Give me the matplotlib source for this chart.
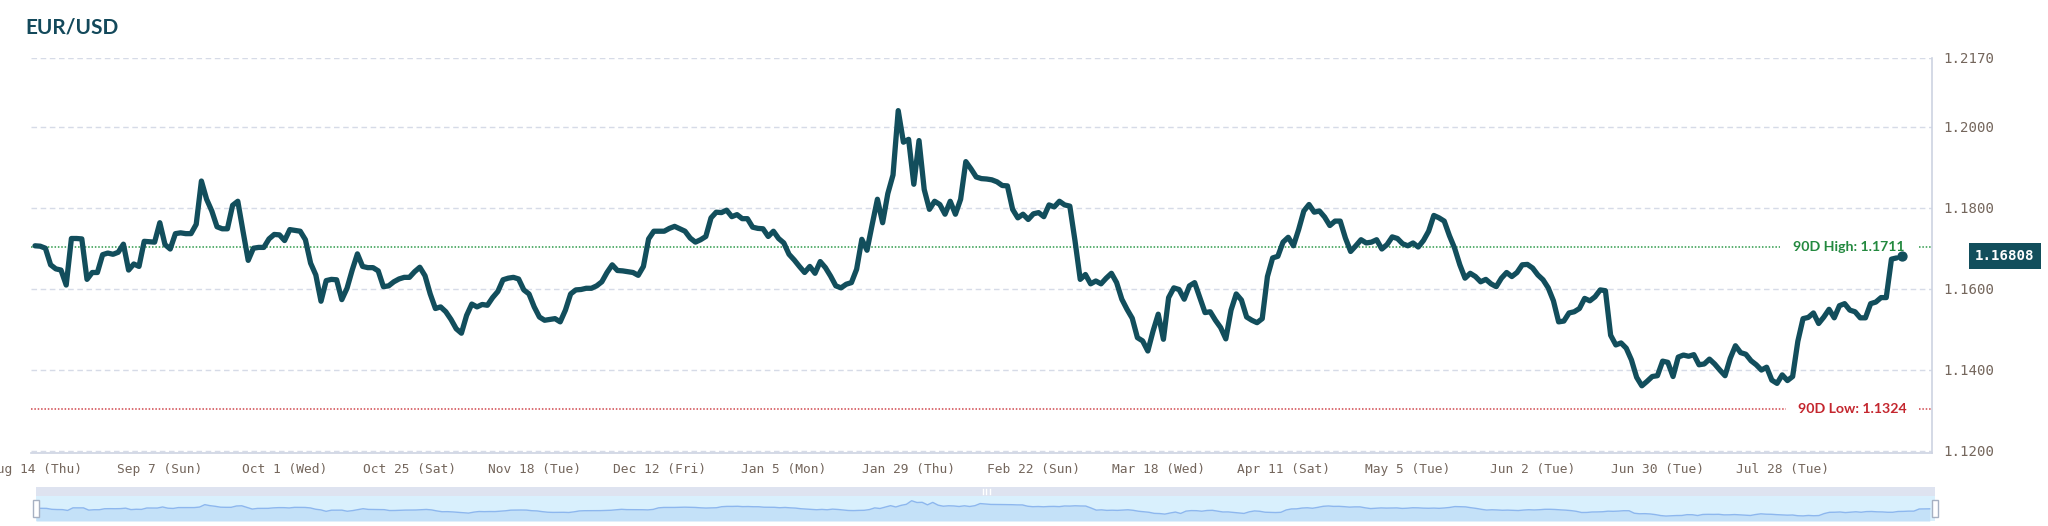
import matplotlib
matplotlib.use("Agg")
import matplotlib.pyplot as plt
from matplotlib.patches import Rectangle
import numpy as np

# ---- data ----
tick_labels = [
    "Aug 14 (Thu)", "Sep 7 (Sun)", "Oct 1 (Wed)", "Oct 25 (Sat)", "Nov 18 (Tue)",
    "Dec 12 (Fri)", "Jan 5 (Mon)", "Jan 29 (Thu)", "Feb 22 (Sun)", "Mar 18 (Wed)",
    "Apr 11 (Sat)", "May 5 (Tue)", "Jun 2 (Tue)", "Jun 30 (Tue)", "Jul 28 (Tue)",
]
tick_step = 24  # one label every 24 points

eurusd = [
    # Aug 14 ->
    1.1706, 1.1705, 1.1700, 1.1659, 1.1649, 1.1646, 1.1609, 1.1724, 1.1724, 1.1723,
    1.1623, 1.1640, 1.1640, 1.1684, 1.1688, 1.1685, 1.1690, 1.1710, 1.1646, 1.1661,
    1.1655, 1.1717, 1.1716, 1.1715,
    # Sep 7 ->
    1.1763, 1.1709, 1.1698, 1.1736, 1.1738, 1.1736, 1.1736, 1.1759, 1.1866, 1.1821,
    1.1792, 1.1753, 1.1748, 1.1748, 1.1806, 1.1816, 1.1742, 1.1670, 1.1700, 1.1702,
    1.1702, 1.1723, 1.1734, 1.1733,
    # Oct 1 ->
    1.1719, 1.1746, 1.1744, 1.1742, 1.1721, 1.1663, 1.1634, 1.1569, 1.1620, 1.1623,
    1.1622, 1.1573, 1.1601, 1.1646, 1.1686, 1.1655, 1.1652, 1.1652, 1.1644, 1.1605,
    1.1607, 1.1617, 1.1624, 1.1628,
    # Oct 25 ->
    1.1628, 1.1642, 1.1653, 1.1632, 1.1587, 1.1551, 1.1555, 1.1543, 1.1524, 1.1501,
    1.1490, 1.1534, 1.1562, 1.1555, 1.1561, 1.1559, 1.1578, 1.1593, 1.1622, 1.1626,
    1.1628, 1.1624, 1.1597, 1.1587,
    # Nov 18 ->
    1.1555, 1.1530, 1.1522, 1.1524, 1.1526, 1.1518, 1.1547, 1.1587, 1.1597, 1.1598,
    1.1601, 1.1601, 1.1607, 1.1617, 1.1640, 1.1659, 1.1645, 1.1644, 1.1642, 1.1640,
    1.1633, 1.1655, 1.1723, 1.1742,
    # Dec 12 ->
    1.1742, 1.1742, 1.1749, 1.1754, 1.1748, 1.1742, 1.1725, 1.1715, 1.1721, 1.1729,
    1.1775, 1.1789, 1.1788, 1.1794, 1.1778, 1.1783, 1.1773, 1.1773, 1.1752, 1.1749,
    1.1748, 1.1729, 1.1742, 1.1724,
    # Jan 5 ->
    1.1713, 1.1685, 1.1671, 1.1655, 1.1640, 1.1655, 1.1638, 1.1667, 1.1652, 1.1631,
    1.1607, 1.1602, 1.1611, 1.1615, 1.1648, 1.1722, 1.1695, 1.1759, 1.1821, 1.1763,
    1.1835, 1.1881, 1.2040, 1.1962,
    # Jan 29 ->
    1.1969, 1.1858, 1.1966, 1.1845, 1.1796, 1.1816, 1.1808, 1.1784, 1.1816, 1.1784,
    1.1821, 1.1914, 1.1896, 1.1876, 1.1872, 1.1871, 1.1869, 1.1864, 1.1855, 1.1854,
    1.1796, 1.1775, 1.1784, 1.1771,
    # Feb 22 ->
    1.1785, 1.1788, 1.1778, 1.1807, 1.1802, 1.1816, 1.1807, 1.1804, 1.1718, 1.1623,
    1.1635, 1.1612, 1.1619, 1.1612, 1.1626, 1.1638, 1.1615, 1.1574, 1.1549, 1.1527,
    1.1479, 1.1471, 1.1446, 1.1495,
    # Mar 18 ->
    1.1537, 1.1475, 1.1578, 1.1602, 1.1598, 1.1574, 1.1607, 1.1615, 1.1578, 1.1541,
    1.1543, 1.1522, 1.1504, 1.1476, 1.1547, 1.1587, 1.1572, 1.1530, 1.1522, 1.1516,
    1.1526, 1.1630, 1.1676, 1.1680,
    # Apr 11 ->
    1.1715, 1.1727, 1.1706, 1.1746, 1.1792, 1.1808, 1.1789, 1.1792, 1.1777, 1.1756,
    1.1767, 1.1767, 1.1725, 1.1692, 1.1706, 1.1721, 1.1713, 1.1715, 1.1721, 1.1698,
    1.1709, 1.1728, 1.1724, 1.1711,
    # May 5 ->
    1.1706, 1.1713, 1.1703, 1.1719, 1.1742, 1.1781, 1.1775, 1.1767, 1.1731, 1.1700,
    1.1659, 1.1626, 1.1638, 1.1630, 1.1617, 1.1623, 1.1612, 1.1605, 1.1626, 1.1640,
    1.1630, 1.1640, 1.1659, 1.1660,
    # Jun 2 ->
    1.1651, 1.1634, 1.1622, 1.1602, 1.1570, 1.1518, 1.1520, 1.1540, 1.1543, 1.1551,
    1.1576, 1.1570, 1.1580, 1.1597, 1.1595, 1.1485, 1.1461, 1.1466, 1.1453, 1.1424,
    1.1381, 1.1360, 1.1371, 1.1383,
    # Jun 30 ->
    1.1385, 1.1421, 1.1418, 1.1383, 1.1431, 1.1436, 1.1433, 1.1437, 1.1412, 1.1414,
    1.1426, 1.1414, 1.1399, 1.1385, 1.1428, 1.1459, 1.1442, 1.1438, 1.1422, 1.1412,
    1.1399, 1.1406, 1.1374, 1.1366,
    # Jul 28 ->
    1.1387, 1.1373, 1.1383, 1.1470, 1.1526, 1.1529, 1.1540, 1.1514, 1.1530, 1.1549,
    1.1528, 1.1558, 1.1563, 1.1547, 1.1543, 1.1528, 1.1528, 1.1563, 1.1567, 1.1578,
    1.1578, 1.1673, 1.1676,
]
last_price = 1.16808

high_90d_label = "90D High: 1.1711"
high_90d_line = 1.1702
low_90d_label = "90D Low: 1.1324"
low_90d_line = 1.1303

y_ticks = [1.1200, 1.1400, 1.1600, 1.1800, 1.2000, 1.2170]

# ---- styling ----
TEAL = "#124e5c"
GRID = "#d6dbe7"
AXIS = "#cdd3e2"
TICK_TXT = "#74665c"
GREEN_TXT, GREEN_LINE = "#23893f", "#2e9a4a"
RED_TXT, RED_LINE = "#c4262e", "#d0454b"
MONO = ["DejaVu Sans Mono"]
SANS = ["Lato", "DejaVu Sans"]

W, H, DPI = 2048, 526, 100
fig = plt.figure(figsize=(W / DPI, H / DPI), dpi=DPI)
fig.patch.set_facecolor("white")


def px_box(left, top, right, bottom):
    return [left / W, 1 - bottom / H, (right - left) / W, (bottom - top) / H]


x = np.arange(len(eurusd))
last_x = len(eurusd)

ax = fig.add_axes(px_box(31, 58, 1932, 453))
ax.set_xlim(-0.77, 364.8)
ax.set_ylim(1.1194, 1.2170)

ax.plot(x, eurusd, color=TEAL, lw=3.8, solid_joinstyle="round",
        solid_capstyle="round", zorder=5)
ax.plot([last_x], [last_price], "o", ms=6.4, color=TEAL, zorder=6)

# 90 day high / low reference lines with a gap behind their labels
for level, lo_gap, hi_gap, col in [(high_90d_line, 0.920, 0.9932, GREEN_LINE),
                                   (low_90d_line, 0.9232, 0.9932, RED_LINE)]:
    ax.axhline(level, 0, lo_gap, color=col, lw=1.1, ls=(0, (1, 1.2)), zorder=2)
    ax.axhline(level, hi_gap, 1, color=col, lw=1.1, ls=(0, (1, 1.2)), zorder=2)

ytr = ax.get_yaxis_transform()
ax.text(0.9563, high_90d_line, high_90d_label, transform=ytr, ha="center",
        va="center", color=GREEN_TXT, fontsize=10.2, fontweight="bold",
        family=SANS, zorder=3)
ax.text(0.9580, low_90d_line, low_90d_label, transform=ytr, ha="center",
        va="center", color=RED_TXT, fontsize=10.2, fontweight="bold",
        family=SANS, zorder=3)

# current price tag on the right axis
ax.text(1.0384, last_price, f"{last_price:.5f}", transform=ytr, ha="center",
        va="center", color="white", fontsize=10.2, fontweight="bold",
        family=MONO, clip_on=False,
        bbox=dict(boxstyle="square,pad=0.42", fc=TEAL, ec="none"))

ax.set_yticks(y_ticks)
ax.set_yticklabels([f"{v:.4f}" for v in y_ticks], family=MONO, fontsize=10.2,
                   color=TICK_TXT)
ax.yaxis.tick_right()
ax.set_xticks(np.arange(len(tick_labels)) * tick_step)
ax.set_xticklabels(tick_labels, family=MONO, fontsize=9.3, color=TICK_TXT)
ax.tick_params(axis="both", length=0)
ax.tick_params(axis="y", pad=8)
ax.tick_params(axis="x", pad=7)

ax.grid(axis="y", color=GRID, lw=1.0, ls=(0, (4, 2.6)), zorder=0)
for side in ("left", "top"):
    ax.spines[side].set_visible(False)
for side in ("right", "bottom"):
    ax.spines[side].set_color(AXIS)
    ax.spines[side].set_linewidth(1.2)

fig.text(25 / W, 1 - 33 / H, "EUR/USD", fontsize=15, fontweight="bold",
         family=SANS, color="#13495b", va="baseline", ha="left")

# ---- navigator strip ----
nav = fig.add_axes(px_box(36, 487, 1935, 521))
nav_x = np.append(x, last_x)
nav_y = np.append(eurusd, last_price)
nav.set_xlim(0, 360)
nav.set_ylim(1.114, 1.265)
nav.set_facecolor("#d9f0fd")
nav.axhspan(1.225, 1.265, color="#dee3f0", lw=0, zorder=1)
nav.fill_between(nav_x, nav_y, 1.114, color="#c4e1f8", lw=0, zorder=2)
nav.plot(nav_x, nav_y, color="#8db7ee", lw=1.0, zorder=3)
nav.set_xticks([])
nav.set_yticks([])
for s in nav.spines.values():
    s.set_visible(False)
for gx in (0.4985, 0.5005, 0.5025):
    nav.plot([gx, gx], [0.79, 0.93], transform=nav.transAxes, color="white",
             lw=1.0, zorder=4)
for hx in (0.0, 1.0):
    nav.add_patch(Rectangle((hx - 0.0015, 0.12), 0.003, 0.5,
                            transform=nav.transAxes, fc="white", ec="#a7b1c2",
                            lw=1.0, clip_on=False, zorder=5))

fig.savefig("out.png", dpi=DPI)
